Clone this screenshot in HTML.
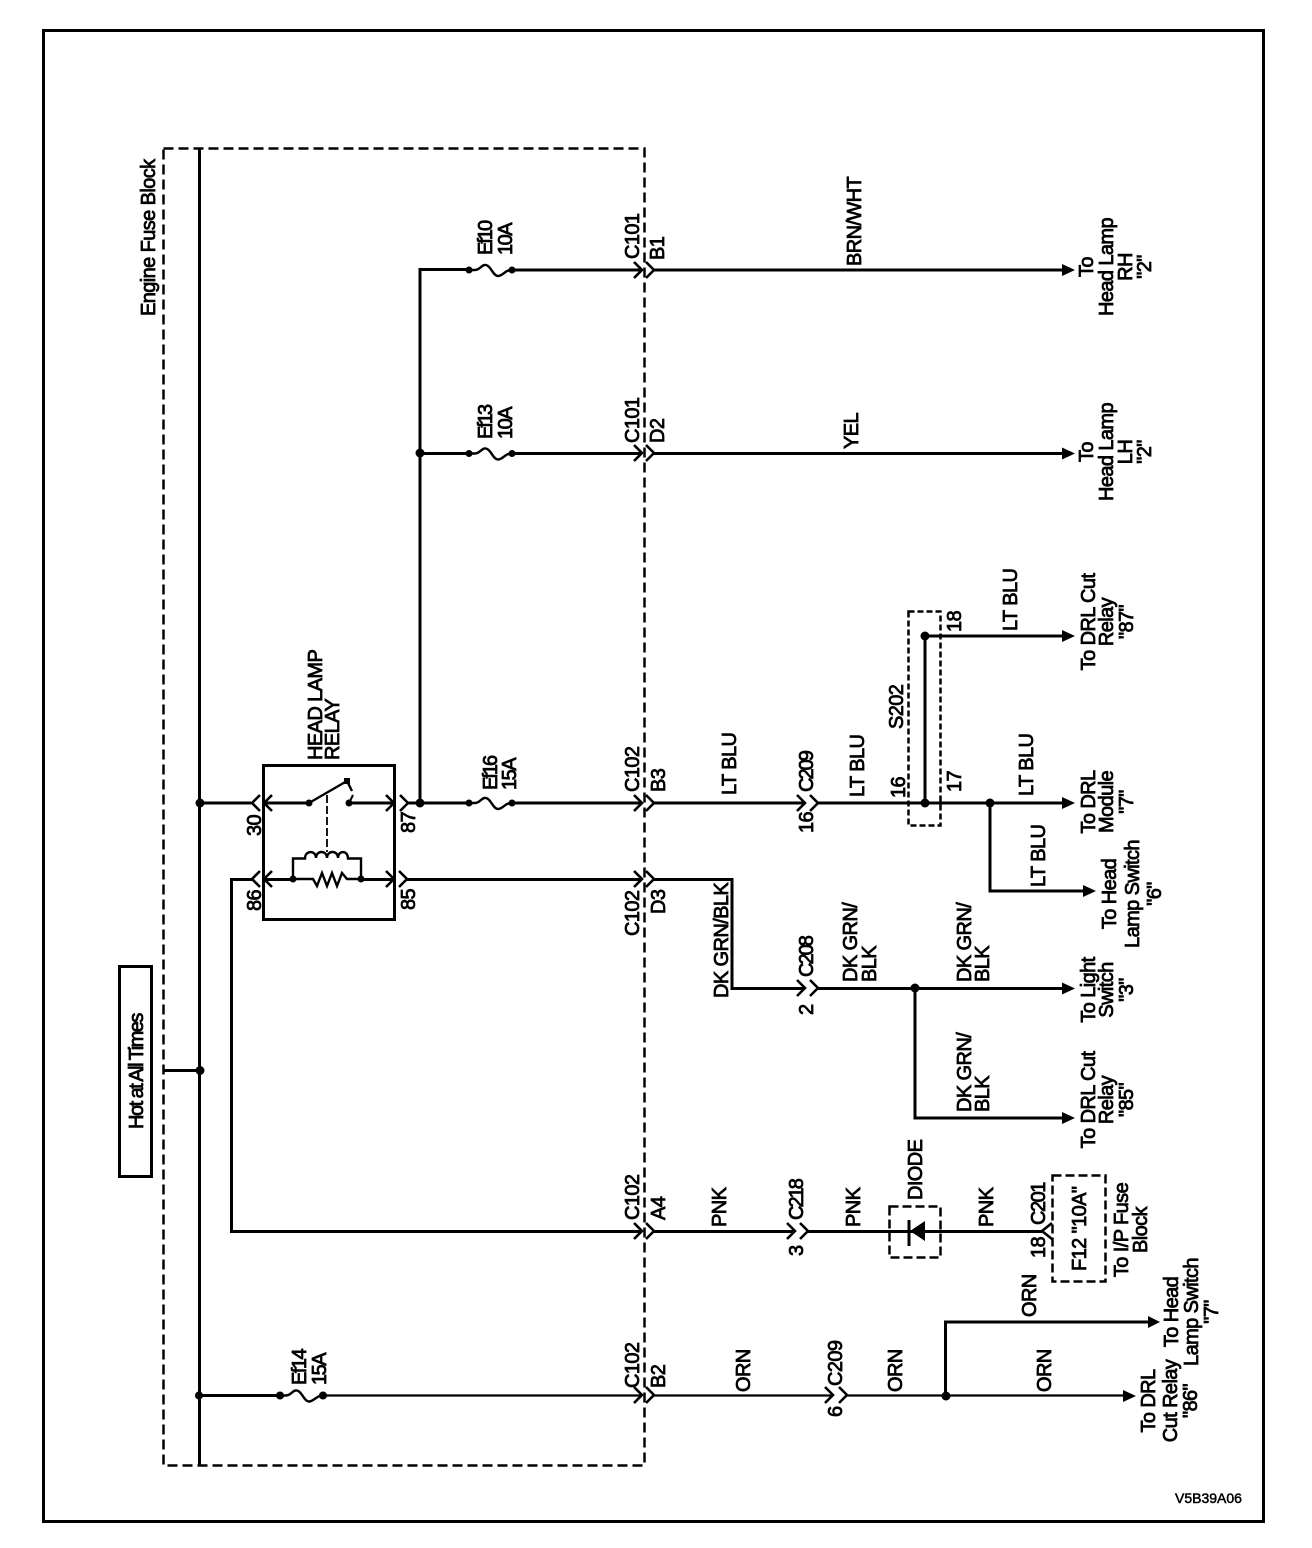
<!DOCTYPE html>
<html><head><meta charset="utf-8"><style>
html,body{margin:0;padding:0;background:#fff}
svg{display:block}
text{font-family:"Liberation Sans",sans-serif;font-size:20px;letter-spacing:-.6px;fill:#000;stroke:#000;stroke-width:.8px}
text.a{letter-spacing:-1.5px}
text.b{letter-spacing:-2px}
g.c text{text-anchor:middle}
</style></head><body>
<svg xmlns="http://www.w3.org/2000/svg" width="1312" height="1548" viewBox="0 0 1312 1548">
<rect width="1312" height="1548" fill="#fff"/>
<rect x="43.5" y="30.5" width="1220" height="1491" fill="none" stroke="#000" stroke-width="3"/>
<rect x="163.5" y="148.5" width="481" height="1317" fill="none" stroke="#000" stroke-width="2.5" stroke-dasharray="10 5"/>
<rect x="119.5" y="966.5" width="32" height="210" fill="none" stroke="#000" stroke-width="3"/>
<rect x="263.5" y="765.5" width="131" height="154" fill="none" stroke="#000" stroke-width="3"/>
<g fill="none" stroke="#000" stroke-width="2.5">
<rect x="908.5" y="611.5" width="32" height="214" stroke-dasharray="6 3"/>
<rect x="889.5" y="1206.5" width="51" height="51" stroke-dasharray="9 4"/>
<rect x="1052.5" y="1175.5" width="53" height="106" stroke-dasharray="9 4"/>
</g>
<g fill="none" stroke="#000" stroke-width="3">
<path d="M199.5 148V1465"/>
<path d="M199 803H251M263 803H309M349 803H393M408 803H469"/>
<path d="M420 803V269.5H469M420 453.5H469"/>
<path d="M511 270H642M654 270H1064M511 453.5H642M654 453.5H1064M511 803H642M654 803H804M818 803H1064"/>
<path d="M925 803V636H1064M990 803V891H1084"/>
<path d="M407 879.500H642M654 879.500H732V988.500H804M818 988.500H1064M915 988.500V1118H1064"/>
<path d="M252 879.500H231.500V1231.500H642M654 1231.500H795M808 1231.500H1042"/>
<path d="M945.500 1396V1322H1150"/>
<path d="M199 1395.500H280"/>
<path d="M263 879.500H293M361 879.500H393"/>
<path d="M163 1070.500H200"/>
</g>
<path d="M323 1395.500H642M654 1395.500H833M847 1395.500H1125" fill="none" stroke="#000" stroke-width="2.2"/>
<g fill="none" stroke="#000" stroke-width="2.6">
<path d="M260 795L252 803L260 811M272 795L264 803L272 811M386 795L394 803L386 811M400 795L408 803L400 811"/>
<path d="M260 871L252 879L260 887M272 871L264 879L272 887M386 871L394 879L386 887M399 871L407 879L399 887"/>
<path d="M634 262L642 270L634 278M646 262L654 270L646 278M634 445L642 453L634 461M646 445L654 453L646 461"/>
<path d="M634 795L642 803L634 811M646 795L654 803L646 811M634 871L642 879L634 887M646 871L654 879L646 887"/>
<path d="M634 1223L642 1231L634 1239M646 1223L654 1231L646 1239M634 1387L642 1395L634 1403M646 1387L654 1395L646 1403"/>
<path d="M797 795L805 803L797 811M810 795L818 803L810 811M797 980L805 988L797 996M810 980L818 988L810 996"/>
<path d="M787 1223L795 1231L787 1239M800 1223L808 1231L800 1239M825 1387L833 1395L825 1403M839 1387L847 1395L839 1403"/>
<path d="M1052 1223L1042 1231L1052 1239"/>
</g>
<g fill="none" stroke="#000" stroke-width="2.4">
<path d="M469 270H475C480 270 482 264 486 265C491 266 493 276 498 276C503 276 505 270 511 270"/>
<path d="M469 453.500H475C480 453.500 482 447.500 486 448.500C491 449.500 493 459.500 498 459.500C503 459.500 505 453.500 511 453.500"/>
<path d="M469 803H475C480 803 482 797 486 798C491 799 493 809 498 809C503 809 505 803 511 803"/>
<path d="M280 1395.500H286C291 1395.500 293 1389.500 297 1390.500C302 1391.500 304 1401.500 309 1401.500C314 1401.500 316 1395.500 323 1395.500"/>
<path d="M309 803L347 781M347 781L352 791"/>
<path d="M353 795L349 803" stroke-width="2"/>
<path d="M327 795V852" stroke-dasharray="8 3" stroke-width="1.800"/>
<path d="M293 879V858.500H305C305 850 316 850 316 858C316 850 327 850 327 858C327 850 338 850 338 858C338 850 348 850 348 858.500H361V879"/>
<path d="M293 879H313L317 886L322 873L327 886L332 873L337 886L342 873L347 879H361"/>
<path d="M909 1220V1246" stroke-width="3"/>
</g>
<g fill="#000">
<circle cx="200" cy="803" r="4.500"/><circle cx="420" cy="803" r="4.500"/><circle cx="420" cy="453" r="4.500"/>
<circle cx="469" cy="270" r="3.500"/><circle cx="512" cy="270" r="3.500"/>
<circle cx="469" cy="453.500" r="3.500"/><circle cx="512" cy="453.500" r="3.500"/>
<circle cx="469" cy="803" r="3.500"/><circle cx="512" cy="803" r="3.500"/>
<circle cx="280" cy="1395.500" r="4"/><circle cx="323" cy="1395.500" r="4"/>
<circle cx="309" cy="803" r="3.500"/><circle cx="349" cy="803" r="3.500"/>
<rect x="344" y="778" width="6" height="6"/>
<circle cx="293" cy="879" r="3.500"/><circle cx="361" cy="879" r="3.500"/>
<circle cx="925" cy="636" r="4.500"/><circle cx="925" cy="803" r="4.500"/><circle cx="990" cy="803" r="4.500"/>
<circle cx="915" cy="988" r="4.500"/><circle cx="946" cy="1396" r="4.500"/>
<circle cx="200" cy="1070.500" r="4.500"/><circle cx="199" cy="1395.500" r="4"/>
<path d="M1062 264L1075 270L1062 276ZM1062 447.500L1075 453.500L1062 459.500ZM1062 797L1075 803L1062 809ZM1062 630L1075 636L1062 642ZM1062 982.500L1075 988.500L1062 994.500ZM1062 1112L1075 1118L1062 1124Z"/>
<path d="M1083 885L1096 891L1083 897ZM1148 1316L1160 1322L1148 1328ZM1123 1390L1136 1396L1123 1402Z"/>
<path d="M925 1221L910 1231L925 1241Z"/>
</g>
<text transform="translate(155 316) rotate(-90)">Engine Fuse Block</text>
<text class="a" transform="translate(143 1129) rotate(-90)">Hot at All Times</text>
<text transform="translate(322 760) rotate(-90)">HEAD LAMP</text>
<text transform="translate(339 760) rotate(-90)">RELAY</text>
<text transform="translate(261 836) rotate(-90)">30</text>
<text transform="translate(415 833) rotate(-90)">87</text>
<text transform="translate(261 911) rotate(-90)">86</text>
<text transform="translate(415 910) rotate(-90)">85</text>
<text class="b" transform="translate(492 255) rotate(-90)">Ef10</text>
<text class="a" transform="translate(512 255) rotate(-90)">10A</text>
<text class="b" transform="translate(492 439) rotate(-90)">Ef13</text>
<text class="a" transform="translate(512 439) rotate(-90)">10A</text>
<text class="b" transform="translate(497 790) rotate(-90)">Ef16</text>
<text class="a" transform="translate(516 790) rotate(-90)">15A</text>
<text class="a" transform="translate(306 1385) rotate(-90)">Ef14</text>
<text class="a" transform="translate(326 1385) rotate(-90)">15A</text>
<text transform="translate(639 259) rotate(-90)">C101</text>
<text transform="translate(664 260) rotate(-90)">B1</text>
<text transform="translate(639 443) rotate(-90)">C101</text>
<text transform="translate(664 443) rotate(-90)">D2</text>
<text transform="translate(639 792) rotate(-90)">C102</text>
<text transform="translate(665 792) rotate(-90)">B3</text>
<text transform="translate(639 936) rotate(-90)">C102</text>
<text transform="translate(665 914) rotate(-90)">D3</text>
<text transform="translate(639 1220) rotate(-90)">C102</text>
<text transform="translate(665 1220) rotate(-90)">A4</text>
<text transform="translate(639 1388) rotate(-90)">C102</text>
<text transform="translate(665 1388) rotate(-90)">B2</text>
<text transform="translate(861 266) rotate(-90)">BRN/WHT</text>
<text transform="translate(858 449) rotate(-90)">YEL</text>
<text transform="translate(736 795) rotate(-90)">LT BLU</text>
<text class="b" transform="translate(813 792) rotate(-90)">C209</text>
<text transform="translate(813 833) rotate(-90)">16</text>
<text transform="translate(864 797) rotate(-90)">LT BLU</text>
<text transform="translate(905 798) rotate(-90)">16</text>
<text transform="translate(961 792) rotate(-90)">17</text>
<text transform="translate(903 729) rotate(-90)">S202</text>
<text transform="translate(961 632) rotate(-90)">18</text>
<text transform="translate(1017 631) rotate(-90)">LT BLU</text>
<text transform="translate(1033 796) rotate(-90)">LT BLU</text>
<text transform="translate(1045 887) rotate(-90)">LT BLU</text>
<text transform="translate(728 998) rotate(-90)">DK GRN/BLK</text>
<text class="b" transform="translate(813 977) rotate(-90)">C208</text>
<text transform="translate(813 1015) rotate(-90)">2</text>
<text transform="translate(857 982) rotate(-90)">DK GRN/</text>
<text transform="translate(876 982) rotate(-90)">BLK</text>
<text transform="translate(971 982) rotate(-90)">DK GRN/</text>
<text transform="translate(989 982) rotate(-90)">BLK</text>
<text transform="translate(971 1112) rotate(-90)">DK GRN/</text>
<text transform="translate(989 1112) rotate(-90)">BLK</text>
<text transform="translate(726 1227) rotate(-90)">PNK</text>
<text class="b" transform="translate(803 1220) rotate(-90)">C218</text>
<text transform="translate(803 1256) rotate(-90)">3</text>
<text transform="translate(860 1227) rotate(-90)">PNK</text>
<text transform="translate(922 1200) rotate(-90)">DIODE</text>
<text transform="translate(993 1227) rotate(-90)">PNK</text>
<text class="a" transform="translate(1045 1225) rotate(-90)">C201</text>
<text transform="translate(1045 1258) rotate(-90)">18</text>
<text transform="translate(1086 1271) rotate(-90)">F12 "10A"</text>
<text transform="translate(1036 1317) rotate(-90)">ORN</text>
<text transform="translate(750 1392) rotate(-90)">ORN</text>
<text transform="translate(842 1386) rotate(-90)">C209</text>
<text transform="translate(842 1417) rotate(-90)">6</text>
<text transform="translate(902 1392) rotate(-90)">ORN</text>
<text transform="translate(1051 1392) rotate(-90)">ORN</text>
<g class="c">
<text transform="translate(1093 267) rotate(-90)">To</text>
<text transform="translate(1113 267) rotate(-90)">Head Lamp</text>
<text transform="translate(1132 267) rotate(-90)">RH</text>
<text transform="translate(1151 267) rotate(-90)">"2"</text>
<text transform="translate(1093 452) rotate(-90)">To</text>
<text transform="translate(1113 452) rotate(-90)">Head Lamp</text>
<text transform="translate(1132 452) rotate(-90)">LH</text>
<text transform="translate(1151 452) rotate(-90)">"2"</text>
<text transform="translate(1095 622) rotate(-90)">To DRL Cut</text>
<text transform="translate(1113 622) rotate(-90)">Relay</text>
<text transform="translate(1133 622) rotate(-90)">"87"</text>
<text transform="translate(1095 802) rotate(-90)">To DRL</text>
<text transform="translate(1113 802) rotate(-90)">Module</text>
<text transform="translate(1133 802) rotate(-90)">"7"</text>
<text transform="translate(1116 894) rotate(-90)">To Head</text>
<text transform="translate(1139 894) rotate(-90)">Lamp Switch</text>
<text transform="translate(1161 894) rotate(-90)">"6"</text>
<text transform="translate(1095 990) rotate(-90)">To Light</text>
<text transform="translate(1113 990) rotate(-90)">Switch</text>
<text transform="translate(1133 990) rotate(-90)">"3"</text>
<text transform="translate(1095 1100) rotate(-90)">To DRL Cut</text>
<text transform="translate(1113 1100) rotate(-90)">Relay</text>
<text transform="translate(1133 1100) rotate(-90)">"85"</text>
<text transform="translate(1128 1230) rotate(-90)">To I/P Fuse</text>
<text transform="translate(1147 1230) rotate(-90)">Block</text>
<text transform="translate(1178 1312) rotate(-90)">To Head</text>
<text transform="translate(1198 1312) rotate(-90)">Lamp Switch</text>
<text transform="translate(1218 1312) rotate(-90)">"7"</text>
<text transform="translate(1155 1401) rotate(-90)">To DRL</text>
<text transform="translate(1177 1401) rotate(-90)">Cut Relay</text>
<text transform="translate(1197 1401) rotate(-90)">"86"</text>
</g>
<text x="1175" y="1503" style="font-size:14px;letter-spacing:0;stroke-width:.5px">V5B39A06</text>
</svg>
</body></html>
